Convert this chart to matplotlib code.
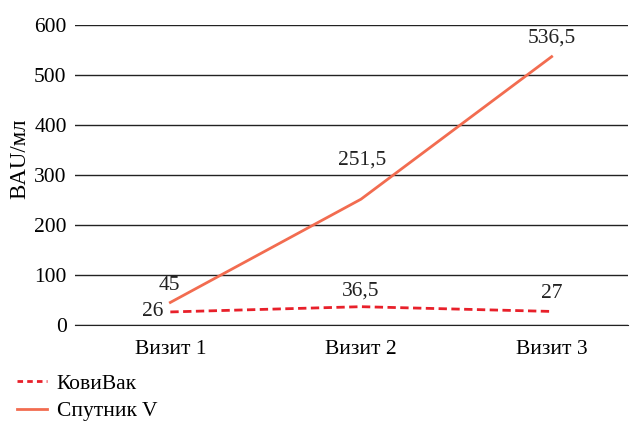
import matplotlib.pyplot as plt
from matplotlib.lines import Line2D

plt.rcParams['font.family'] = ['Liberation Serif', 'DejaVu Serif']

visits = ['Визит 1', 'Визит 2', 'Визит 3']
kovivak = [26, 36.5, 27]
sputnik = [45, 251.5, 536.5]
kovivak_labels = ['26', '36,5', '27']
sputnik_labels = ['45', '251,5', '536,5']
yticks = [0, 100, 200, 300, 400, 500, 600]

red = '#e8202a'
orange = '#f26c50'
fs = 15.5

fig = plt.figure(figsize=(6.33, 4.22), dpi=100)
ax = fig.add_axes([0.1185, 0.23, 0.8735, 0.711])

x = list(range(len(visits)))
ax.plot(x, kovivak, color=red, lw=2, ls=(0, (3, 1.6)), zorder=3)
ax.plot(x, sputnik, color=orange, lw=2, zorder=3)

ax.set_xlim(-0.5, 2.4)
ax.set_ylim(0, 600)
ax.set_yticks(yticks)
ax.set_xticks(x)
ax.set_xticklabels(visits, fontsize=fs)
ax.tick_params(axis='y', labelsize=fs, length=0, pad=6)
ax.tick_params(axis='x', length=0, pad=11)
ax.grid(axis='y', color='#222222', lw=1)
ax.set_axisbelow(True)
for s in ['left', 'right', 'top']:
    ax.spines[s].set_visible(False)
ax.spines['bottom'].set_color('#222222')
ax.set_ylabel('BAU/мл', fontsize=16.5)
ax.yaxis.set_label_coords(-0.081, 0.553)

# value labels
offs_k = [(-0.095, 0), (0, 31), (0, 35)]
offs_s = [(-0.005, 33), (0.005, 78), (0, 38)]
for i in x:
    dx, dy = offs_k[i]
    ax.text(i + dx, kovivak[i] + dy, kovivak_labels[i], fontsize=fs,
            ha='center', va='center', color='#222222')
    dx, dy = offs_s[i]
    ax.text(i + dx, sputnik[i] + dy, sputnik_labels[i], fontsize=fs,
            ha='center', va='center', color='#222222')

handles = [Line2D([], [], color=red, lw=2, ls=(0, (2, 1.5))),
           Line2D([], [], color=orange, lw=2)]
fig.legend(handles, ['КовиВак', 'Спутник V'], loc='lower left',
           bbox_to_anchor=(0.013, -0.019), frameon=False, fontsize=fs,
           borderaxespad=0, handlelength=1.4, handletextpad=0.45,
           labelspacing=0.35)

fig.savefig('out.png', dpi=100)
